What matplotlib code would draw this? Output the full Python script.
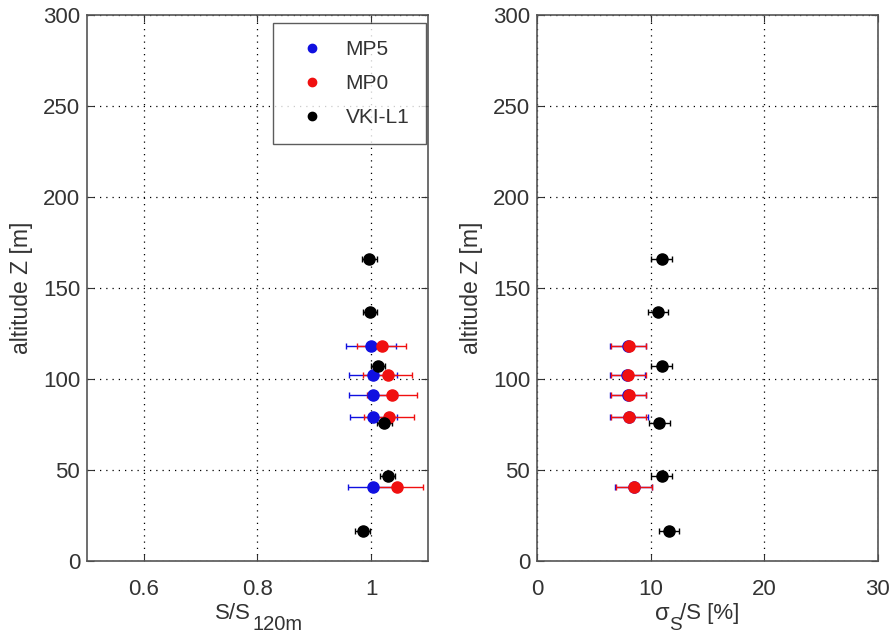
import matplotlib.pyplot as plt
from matplotlib.lines import Line2D
import numpy as np

plt.rcParams['font.family'] = ['Liberation Sans', 'DejaVu Sans']

# MP campaigns (altitudes in m)
z_mp = [118, 102, 91, 79, 40.5]
s_mp5 = [1.000, 1.003, 1.003, 1.004, 1.003]
s_mp5_err = [0.044, 0.042, 0.042, 0.042, 0.044]
s_mp0 = [1.019, 1.029, 1.036, 1.032, 1.046]
s_mp0_err = [0.043, 0.043, 0.044, 0.044, 0.045]
sig_mp5 = [8.0, 7.95, 8.0, 8.1, 8.5]
sig_mp5_err = [1.55, 1.55, 1.55, 1.7, 1.6]
sig_mp0 = [8.09, 8.03, 8.09, 8.09, 8.56]
sig_mp0_err = [1.54, 1.54, 1.54, 1.54, 1.6]

# VKI-L1 lidar
z_vki = [166, 137, 107, 76, 46.7, 16.5]
s_vki = [0.997, 0.998, 1.012, 1.023, 1.029, 0.985]
s_vki_err = [0.013, 0.013, 0.013, 0.013, 0.013, 0.013]
sig_vki = [10.97, 10.67, 10.97, 10.76, 10.97, 11.61]
sig_vki_err = [0.9, 0.9, 0.9, 0.9, 0.9, 0.9]

names = ['MP5', 'MP0', 'VKI-L1']
colors = ['#1010e0', '#f01010', 'black']
txt = '#333333'
fs = 16

fig = plt.figure(figsize=(8.9, 6.33), dpi=100)
ax1 = fig.add_axes([0.0978, 0.1137, 0.383, 0.8626])
ax2 = fig.add_axes([0.6034, 0.1137, 0.383, 0.8626])

def draw(ax, x5, e5, x0, e0, xv, ev):
    kw = dict(fmt='o', markersize=8, capsize=2.5, elinewidth=1, capthick=1, linestyle='none')
    ax.errorbar(x5, z_mp, xerr=e5, color=colors[0], **kw)
    ax.errorbar(x0, z_mp, xerr=e0, color=colors[1], **kw)
    ax.errorbar(xv, z_vki, xerr=ev, color=colors[2], **kw)
    ax.set_ylim(0, 300)
    ax.set_yticks(np.arange(0, 301, 50))
    ax.grid(True, color='black', linestyle=(0, (1, 4)), linewidth=0.9)
    ax.tick_params(direction='in', top=True, right=True, labelsize=fs,
                   colors=txt, length=5)
    ax.tick_params(axis='y', pad=5)
    ax.tick_params(axis='x', pad=13)
    for sp in ax.spines.values():
        sp.set_color('#555555')
        sp.set_linewidth(1.2)
    ax.set_ylabel('altitude Z [m]', fontsize=16.5, color=txt)
    ax.yaxis.set_label_coords(-0.158, 0.5)

draw(ax1, s_mp5, s_mp5_err, s_mp0, s_mp0_err, s_vki, s_vki_err)
ax1.set_xlim(0.5, 1.1)
ax1.set_xticks([0.6, 0.8, 1.0])
ax1.set_xticklabels(['0.6', '0.8', '1'])
# x label with a big subscript, as in the original
ax1.text(0.48, -0.097, 'S/S', transform=ax1.transAxes, ha='right', va='center',
         fontsize=fs, color=txt)
ax1.text(0.484, -0.1155, '120m', transform=ax1.transAxes, ha='left', va='center',
         fontsize=14.5, color=txt)

handles = [Line2D([], [], marker='o', color=c, linestyle='none', markersize=6)
           for c in colors]
leg = ax1.legend(handles, names, loc='upper right', bbox_to_anchor=(0.994, 0.985),
                 borderaxespad=0, fontsize=15, frameon=True, fancybox=False,
                 handlelength=2.2, handletextpad=0.5, labelspacing=0.72,
                 borderpad=0.8)
leg.get_frame().set_edgecolor('#333333')
leg.get_frame().set_linewidth(1.0)
for t in leg.get_texts():
    t.set_color(txt)

draw(ax2, sig_mp5, sig_mp5_err, sig_mp0, sig_mp0_err, sig_vki, sig_vki_err)
ax2.set_xlim(0, 30)
ax2.set_xticks([0, 10, 20, 30])
ax2.text(0.39, -0.097, '\u03c3', transform=ax2.transAxes, ha='right', va='center',
         fontsize=17, color=txt)
ax2.text(0.388, -0.118, 'S', transform=ax2.transAxes, ha='left', va='center',
         fontsize=13.5, color=txt)
ax2.text(0.42, -0.097, '/S [%]', transform=ax2.transAxes, ha='left', va='center',
         fontsize=fs, color=txt)

fig.savefig('out.png', dpi=100)
